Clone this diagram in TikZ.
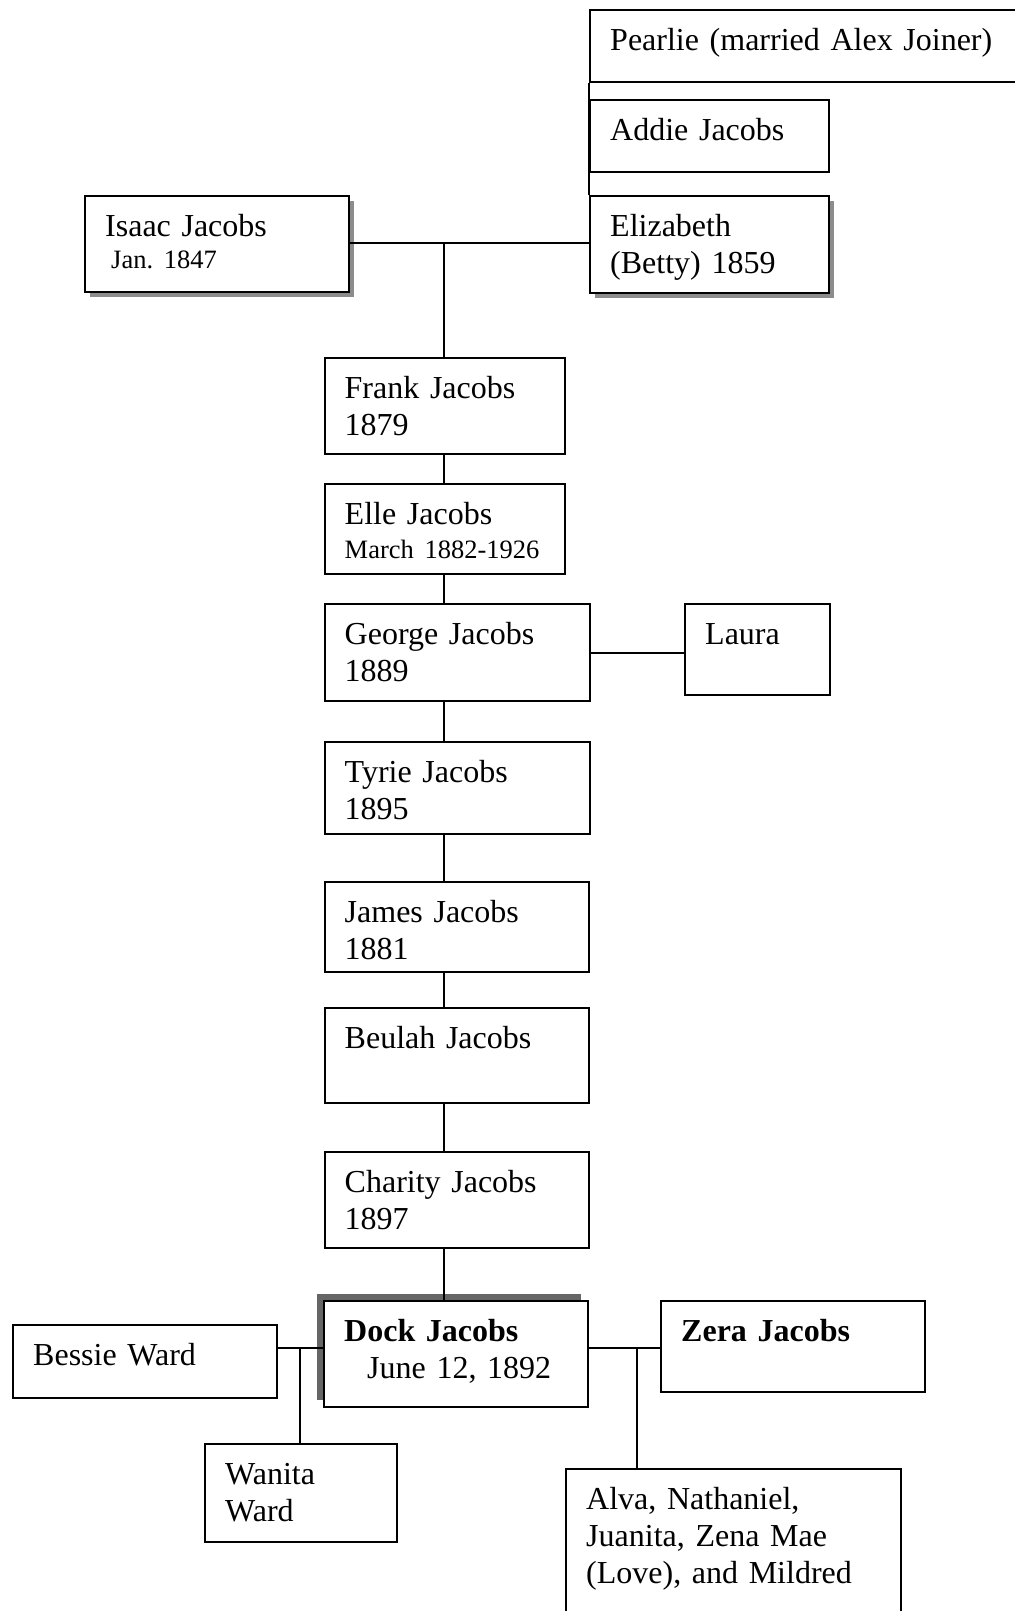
\documentclass[tikz,border=0pt]{standalone}
\usepackage{fontspec}
\setmainfont{Liberation Serif}
\usetikzlibrary{shadows}
\frenchspacing

\newcommand{\datefont}{\fontsize{13.25}{18.5}\selectfont}

\tikzset{
	person/.style 2 args={draw=black, line width=1.2pt, fill=white, anchor=north west,
		inner xsep=10pt, inner ysep=0pt, align=left, text width=#1,
		text height=20pt, text depth=#2, font=\fontsize{16}{18.5}\selectfont},
	shade low/.style={drop shadow={shadow xshift=2.5pt, shadow yshift=-2.5pt, opacity=1, fill=black!45}},
	shade high/.style={drop shadow={shadow xshift=-3.5pt, shadow yshift=3.5pt, opacity=1, fill=black!60}},
	tie/.style={line width=1pt}
}

\begin{document}
\begin{tikzpicture}[x=0.5pt, y=-0.5pt]
	\useasboundingbox (0,0) rectangle (1014,1611);
	% parents
	\node[person={200.5pt}{16pt}] (pearlie) at (589,9) {Pearlie (married Alex Joiner)};
	\node[person={99.5pt}{16pt}] (addie) at (589,99) {Addie Jacobs};
	\node[person={99.5pt}{28.5pt}, shade low] (elizabeth) at (589,195) {Elizabeth\\(Betty) 1859};
	\node[person={112pt}{28pt}, shade low] (isaac) at (84,195) {Isaac Jacobs\\[-2.5pt]\hspace*{3pt}{\datefont Jan. 1847}};
	% children
	\node[person={100.25pt}{28pt}] (frank) at (323.5,357) {Frank Jacobs\\1879};
	\node[person={100.25pt}{25pt}] (elle) at (323.5,483) {Elle Jacobs\\[-1.5pt]{\datefont March 1882-1926}};
	\node[person={112.75pt}{28.5pt}] (george) at (323.5,603) {George Jacobs\\1889};
	\node[person={52.5pt}{25.5pt}] (laura) at (684,603) {Laura};
	\node[person={112.75pt}{26pt}] (tyrie) at (323.5,741) {Tyrie Jacobs\\1895};
	\node[person={112.25pt}{25pt}] (james) at (323.5,881) {James Jacobs\\1881};
	\node[person={112.25pt}{27.5pt}] (beulah) at (323.5,1007) {Beulah Jacobs};
	\node[person={112.25pt}{28pt}] (charity) at (323.5,1151) {Charity Jacobs\\1897};
	\node[person={112pt}{33pt}, shade high] (dock) at (323,1300) {\textbf{Dock Jacobs}\\\hspace*{11.5pt}June 12, 1892};
	% dock's families
	\node[person={112pt}{16.5pt}] (bessie) at (12,1324) {Bessie Ward};
	\node[person={76pt}{29pt}] (wanita) at (204,1443) {Wanita\\Ward};
	\node[person={112pt}{25.5pt}] (zera) at (660,1300) {\textbf{Zera Jacobs}};
	\node[person={147.5pt}{56pt}] (alva) at (565,1468) {Alva, Nathaniel,\\Juanita, Zena Mae\\(Love), and Mildred};
	% lines
	\coordinate (ie) at (444,243);
	\coordinate (bw) at (300,1348);
	\coordinate (dz) at (637,1348);
	\draw[tie] (pearlie.south west) -- (elizabeth.north west);
	\draw[tie] (ie -| isaac.east) -- (ie -| elizabeth.west);
	\draw[tie] (ie) -- (ie |- frank.north);
	\draw[tie] (ie |- frank.south) -- (ie |- elle.north);
	\draw[tie] (ie |- elle.south) -- (ie |- george.north);
	\draw[tie] (george.east) -- (george.east -| laura.west);
	\draw[tie] (ie |- george.south) -- (ie |- tyrie.north);
	\draw[tie] (ie |- tyrie.south) -- (ie |- james.north);
	\draw[tie] (ie |- james.south) -- (ie |- beulah.north);
	\draw[tie] (ie |- beulah.south) -- (ie |- charity.north);
	\draw[tie] (ie |- charity.south) -- (ie |- dock.north);
	\draw[tie] (bw -| bessie.east) -- (bw -| dock.west);
	\draw[tie] (bw) -- (bw |- wanita.north);
	\draw[tie] (dz -| dock.east) -- (dz -| zera.west);
	\draw[tie] (dz) -- (dz |- alva.north);
\end{tikzpicture}
\end{document}
